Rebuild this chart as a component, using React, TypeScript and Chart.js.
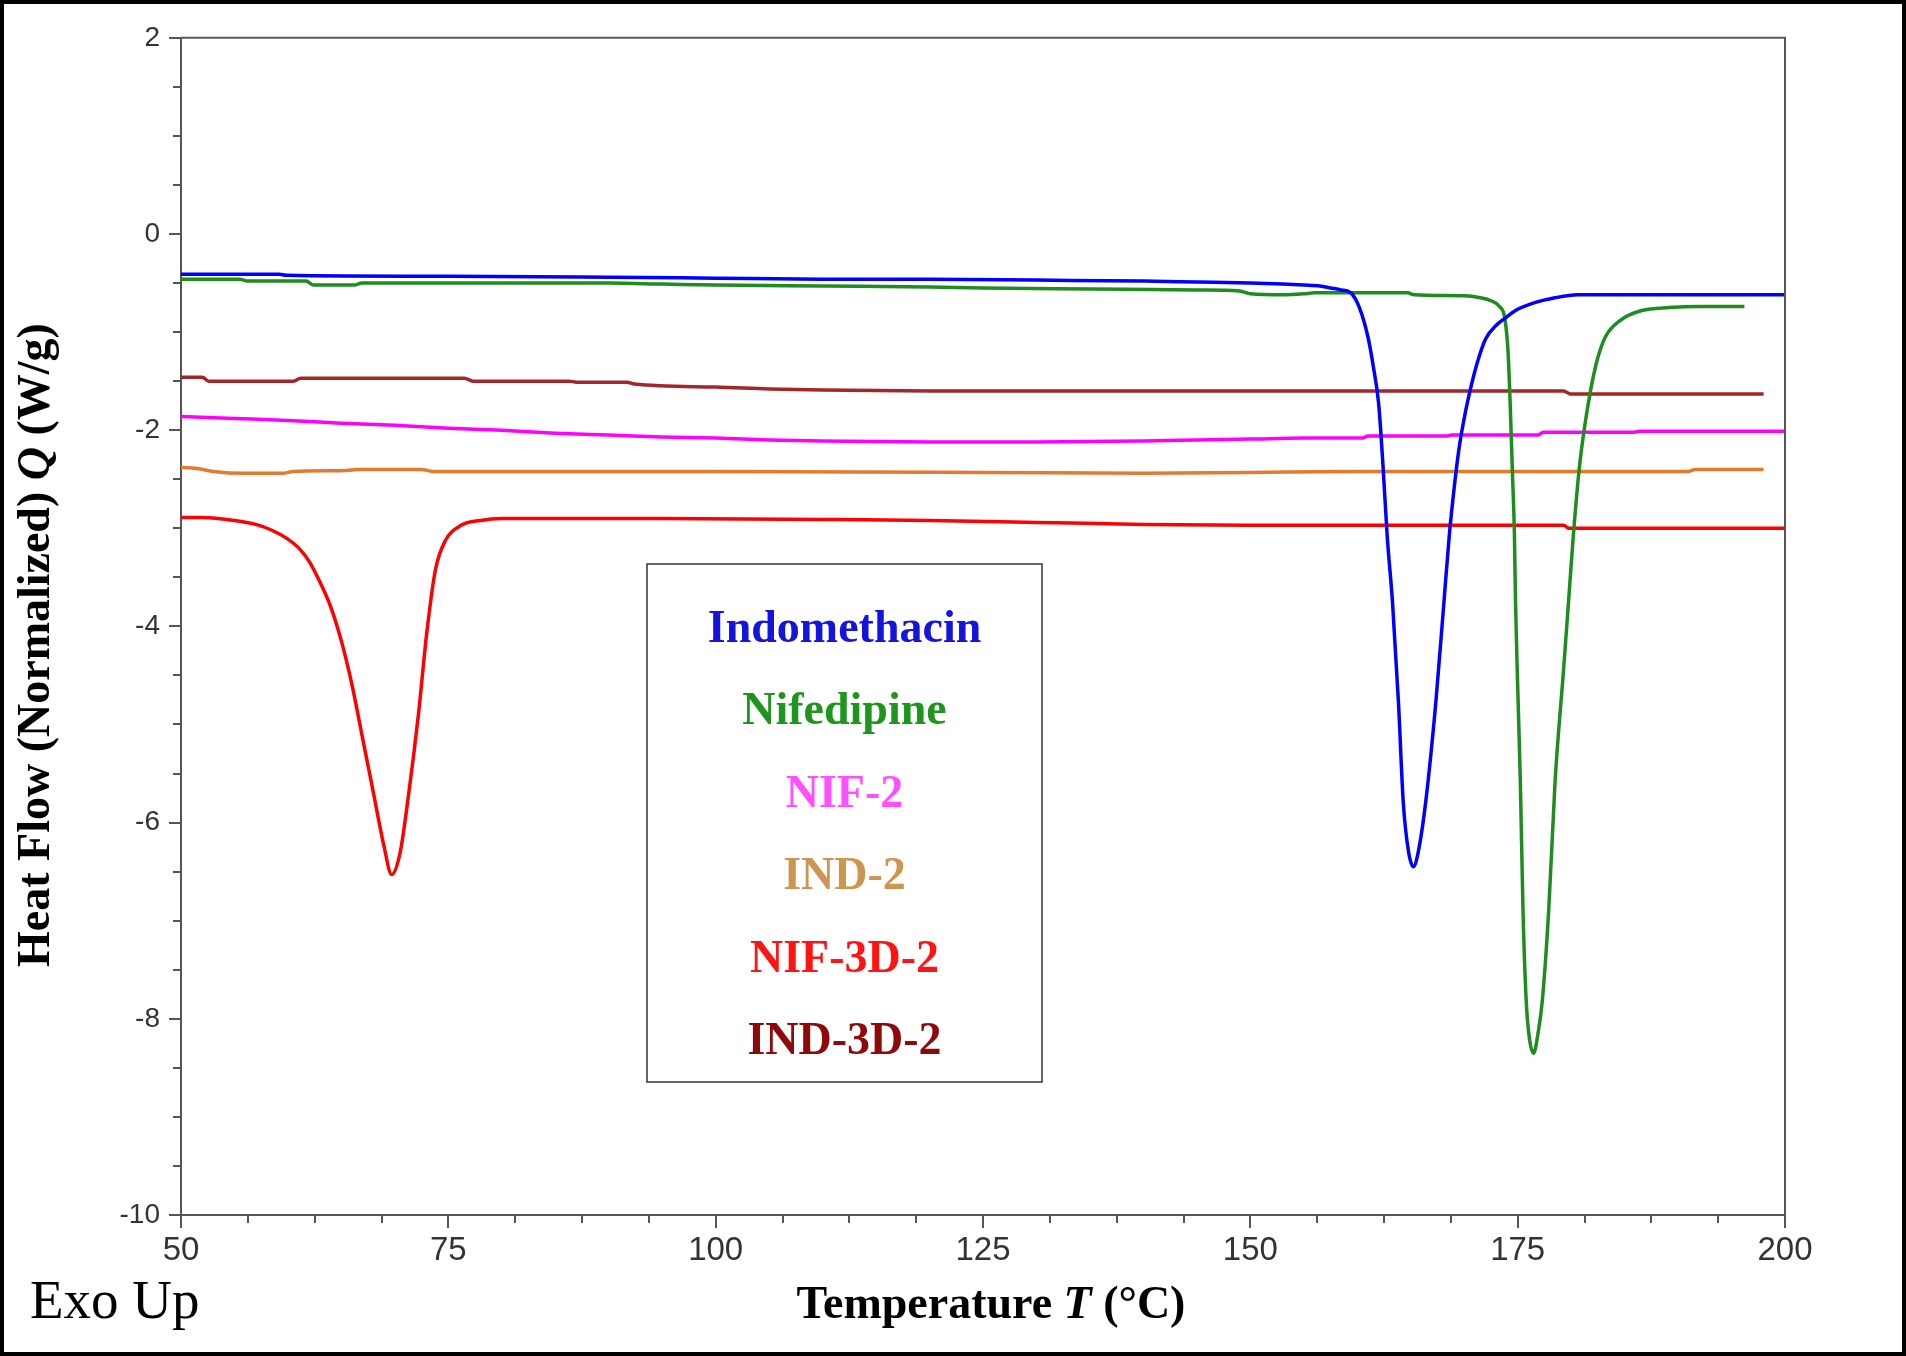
import React, { useEffect, useRef } from 'react';
import { Chart, registerables } from 'chart.js';

Chart.register(...registerables);

// ---------- axes ----------
const X_MIN = 50;
const X_MAX = 200;
const X_MAJOR = 25;
const X_MINOR = 6.25;
const Y_MIN = -10;
const Y_MAX = 2;
const Y_MAJOR = 2;
const Y_MINOR = 0.5;

const xTitleParts = [
  { text: 'Temperature ', italic: false },
  { text: 'T', italic: true },
  { text: ' (°C)', italic: false },
];
const yTitleParts = [
  { text: 'Heat Flow (Normalized) ', italic: false },
  { text: 'Q', italic: true },
  { text: ' (W/g)', italic: false },
];
const cornerNote = 'Exo Up';

// ---------- series ----------
const seriesNames = ['Indomethacin', 'Nifedipine', 'NIF-2', 'IND-2', 'NIF-3D-2', 'IND-3D-2'];
const lineColors = ['#0000FF', '#1E8C1E', '#FF00FF', '#E57A2E', '#FF0000', '#A3262A'];
const legendColors = ['#1414DC', '#1E961E', '#FF50FF', '#CD9650', '#FF1414', '#8C0A0A'];

const indometT = [50, 59.2, 59.8, 75, 90, 100, 110, 120, 130, 140, 145, 150, 153, 155, 156.5, 157.5, 158.5, 159.4, 160.2, 161.0, 161.5, 162.0, 162.4, 162.8, 163.3, 163.85, 164.3, 164.8, 165.25, 165.7, 166.4, 167.35, 168.1, 168.6, 169.0, 169.5, 170.0, 170.5, 171.2, 172.0, 173.0, 173.8, 174.8, 176.6, 178.5, 180.6, 190, 200];
const indometQ = [-0.41, -0.41, -0.42, -0.43, -0.44, -0.45, -0.46, -0.46, -0.47, -0.48, -0.49, -0.50, -0.51, -0.52, -0.53, -0.55, -0.57, -0.60, -0.75, -1.05, -1.35, -1.73, -2.35, -3.08, -3.76, -4.77, -5.79, -6.30, -6.45, -6.30, -5.79, -4.77, -3.76, -3.08, -2.65, -2.20, -1.88, -1.62, -1.32, -1.07, -0.93, -0.86, -0.78, -0.70, -0.65, -0.62, -0.62, -0.62];

const nifedT = [50, 55.5, 56.2, 61.7, 62.4, 66.2, 66.9, 75, 90, 95, 100, 110, 120, 125, 135, 145, 149, 150, 153, 155, 156, 164.7, 165.3, 170, 171.5, 172.5, 173.3, 173.8, 174.1, 174.3, 174.5, 174.7, 174.8, 175.0, 175.25, 175.5, 175.8, 176.1, 176.5, 176.9, 177.3, 177.9, 178.5, 179.3, 179.75, 180.2, 180.8, 181.6, 182.4, 183.2, 184.6, 186.6, 189.2, 192, 196.2];
const nifedQ = [-0.46, -0.46, -0.48, -0.48, -0.52, -0.52, -0.50, -0.50, -0.50, -0.51, -0.52, -0.53, -0.54, -0.55, -0.56, -0.57, -0.58, -0.61, -0.62, -0.61, -0.60, -0.60, -0.62, -0.63, -0.65, -0.68, -0.74, -0.86, -1.20, -1.73, -2.40, -3.08, -3.76, -4.60, -5.58, -6.90, -7.82, -8.20, -8.35, -8.15, -7.82, -6.90, -5.58, -4.43, -3.76, -3.08, -2.35, -1.73, -1.30, -1.05, -0.88, -0.78, -0.75, -0.74, -0.74];

const nif2T = [50, 55, 60, 65, 70, 75, 80, 85, 90, 95, 100, 105, 110, 120, 130, 140, 145, 150, 155, 160.5, 161, 168.3, 168.8, 176.9, 177.4, 185.9, 186.4, 200];
const nif2Q = [-1.86, -1.88, -1.90, -1.93, -1.95, -1.98, -2.00, -2.03, -2.05, -2.07, -2.08, -2.10, -2.11, -2.12, -2.12, -2.11, -2.10, -2.09, -2.08, -2.08, -2.06, -2.06, -2.05, -2.05, -2.02, -2.02, -2.01, -2.01];

const ind2T = [50, 51.5, 53, 55.8, 59.5, 60.5, 65.5, 66.5, 72.5, 73.5, 100, 125, 140, 150, 160, 191, 191.6, 198];
const ind2Q = [-2.38, -2.39, -2.42, -2.44, -2.44, -2.42, -2.41, -2.40, -2.40, -2.42, -2.42, -2.43, -2.44, -2.43, -2.42, -2.42, -2.40, -2.40];

const nif3dT = [50, 52, 55, 57, 58.5, 60, 61, 62, 63, 64, 65, 66, 67, 68, 69, 69.7, 70.5, 71.3, 72.2, 73.0, 73.8, 74.7, 76.2, 78, 80, 95, 110, 120, 130, 140, 150, 179.3, 179.8, 200];
const nif3dQ = [-2.89, -2.89, -2.92, -2.96, -3.02, -3.11, -3.20, -3.34, -3.55, -3.80, -4.15, -4.60, -5.15, -5.70, -6.25, -6.53, -6.30, -5.70, -4.90, -4.05, -3.42, -3.13, -2.97, -2.92, -2.90, -2.90, -2.91, -2.92, -2.94, -2.96, -2.97, -2.97, -3.00, -3.00];

const ind3dT = [50, 52, 52.6, 60.5, 61.2, 76.5, 77.3, 86.3, 87, 91.7, 92.4, 100, 105, 110, 120, 140, 160, 179.3, 179.9, 198];
const ind3dQ = [-1.46, -1.46, -1.50, -1.50, -1.47, -1.47, -1.50, -1.50, -1.51, -1.51, -1.53, -1.56, -1.58, -1.59, -1.60, -1.60, -1.60, -1.60, -1.63, -1.63];

const seriesT = [indometT, nifedT, nif2T, ind2T, nif3dT, ind3dT];
const seriesQ = [indometQ, nifedQ, nif2Q, ind2Q, nif3dQ, ind3dQ];

// ---------- layout / style constants ----------
const W = 1906;
const H = 1356;
const AXIS_COLOR = '#555555';
const TICK_COLOR = '#333333';
const SERIF = '"Liberation Serif", "Times New Roman", serif';
const SANS = '"Liberation Sans", Arial, sans-serif';

type Part = { text: string; italic: boolean };

function drawRich(
  ctx: CanvasRenderingContext2D,
  parts: Part[],
  size: number,
  x: number,
  y: number,
  rot: number,
  stretch: number
) {
  ctx.save();
  ctx.translate(x, y);
  ctx.rotate(rot);
  ctx.scale(stretch, 1);
  ctx.fillStyle = '#000';
  ctx.textAlign = 'left';
  ctx.textBaseline = 'alphabetic';
  const fonts = parts.map((p) => `${p.italic ? 'italic ' : ''}bold ${size}px ${SERIF}`);
  let total = 0;
  const widths = parts.map((p, i) => {
    ctx.font = fonts[i];
    const w = ctx.measureText(p.text).width;
    total += w;
    return w;
  });
  let cx = -total / 2;
  parts.forEach((p, i) => {
    ctx.font = fonts[i];
    ctx.fillText(p.text, cx, 0);
    cx += widths[i];
  });
  ctx.restore();
}

const decorPlugin = {
  id: 'decor',
  beforeDraw(chart: any) {
    const ctx: CanvasRenderingContext2D = chart.ctx;
    ctx.save();
    ctx.fillStyle = '#ffffff';
    ctx.fillRect(0, 0, W, H);
    ctx.restore();
  },
  afterDraw(chart: any) {
    const ctx: CanvasRenderingContext2D = chart.ctx;
    const xs = chart.scales.x;
    const ys = chart.scales.y;
    const { left, right, top, bottom } = chart.chartArea;
    ctx.save();
    // frame top & right
    ctx.strokeStyle = AXIS_COLOR;
    ctx.lineWidth = 2;
    ctx.beginPath();
    ctx.moveTo(left, top);
    ctx.lineTo(right, top);
    ctx.lineTo(right, bottom);
    ctx.stroke();
    // tick marks (outside)
    ctx.beginPath();
    for (let v = X_MIN; v <= X_MAX + 1e-6; v += X_MINOR) {
      const px = Math.round(xs.getPixelForValue(v));
      const major = Math.abs(((v - X_MIN) / X_MAJOR) - Math.round((v - X_MIN) / X_MAJOR)) < 1e-6;
      ctx.moveTo(px, bottom);
      ctx.lineTo(px, bottom + (major ? 13 : 8));
    }
    for (let v = Y_MIN; v <= Y_MAX + 1e-6; v += Y_MINOR) {
      const py = Math.round(ys.getPixelForValue(v));
      const major = Math.abs(((v - Y_MIN) / Y_MAJOR) - Math.round((v - Y_MIN) / Y_MAJOR)) < 1e-6;
      ctx.moveTo(left, py);
      ctx.lineTo(left - (major ? 12 : 8), py);
    }
    ctx.stroke();

    // legend box
    const bx0 = 647, by0 = 564, bx1 = 1042, by1 = 1082;
    ctx.strokeStyle = '#333333';
    ctx.lineWidth = 1.5;
    ctx.strokeRect(bx0, by0, bx1 - bx0, by1 - by0);
    ctx.font = `bold 46px ${SERIF}`;
    ctx.textAlign = 'center';
    ctx.textBaseline = 'alphabetic';
    seriesNames.forEach((name, i) => {
      ctx.fillStyle = legendColors[i];
      ctx.fillText(name, (bx0 + bx1) / 2, 642 + i * 82.4);
    });

    // axis titles
    drawRich(ctx, xTitleParts, 46, 991, 1318, 0, 1);
    drawRich(ctx, yTitleParts, 46, 49, 645, -Math.PI / 2, 1);

    // corner note
    ctx.fillStyle = '#000';
    ctx.font = `55px ${SERIF}`;
    ctx.textAlign = 'left';
    ctx.fillText(cornerNote, 30, 1318);

    // outer frame
    ctx.strokeStyle = '#000';
    ctx.lineWidth = 4;
    ctx.strokeRect(2, 2, W - 4, H - 4);
    ctx.restore();
  },
};

export default function App() {
  const ref = useRef<HTMLCanvasElement | null>(null);

  useEffect(() => {
    const canvas = ref.current;
    if (!canvas) return;
    const datasets = seriesNames.map((name, i) => ({
      label: name,
      data: seriesT[i].map((t, j) => ({ x: t, y: seriesQ[i][j] })),
      borderColor: lineColors[i],
      backgroundColor: lineColors[i],
      borderWidth: 3.5,
      pointRadius: 0,
      fill: false,
      cubicInterpolationMode: 'monotone' as const,
    }));
    const chart = new Chart(canvas, {
      type: 'line',
      data: { datasets },
      options: {
        animation: false,
        responsive: false,
        devicePixelRatio: 1,
        layout: { padding: { top: 33, right: W - 1785, bottom: 0, left: 0 } },
        plugins: {
          legend: { display: false },
          tooltip: { enabled: false },
        },
        scales: {
          x: {
            type: 'linear',
            min: X_MIN,
            max: X_MAX,
            grid: { display: false, drawTicks: false },
            border: { display: true, color: AXIS_COLOR, width: 2 },
            ticks: {
              stepSize: X_MAJOR,
              autoSkip: false,
              maxRotation: 0,
              padding: 16,
              color: TICK_COLOR,
              font: { family: SANS, size: 33 },
              callback: (v: any) => String(v),
            },
            afterFit: (s: any) => {
              s.height = H - 1215;
            },
          },
          y: {
            type: 'linear',
            min: Y_MIN,
            max: Y_MAX,
            grid: { display: false, drawTicks: false },
            border: { display: true, color: AXIS_COLOR, width: 2 },
            ticks: {
              stepSize: Y_MAJOR,
              autoSkip: false,
              padding: 21,
              color: TICK_COLOR,
              font: { family: SANS, size: 28 },
              callback: (v: any) => String(v),
            },
            afterFit: (s: any) => {
              s.width = 181;
            },
          },
        },
      },
      plugins: [decorPlugin],
    });
    return () => chart.destroy();
  }, []);

  return (
    <div style={{ position: 'absolute', left: 0, top: 0, width: W, height: H, background: '#fff' }}>
      <canvas ref={ref} width={W} height={H} style={{ width: W, height: H, display: 'block' }} />
    </div>
  );
}
